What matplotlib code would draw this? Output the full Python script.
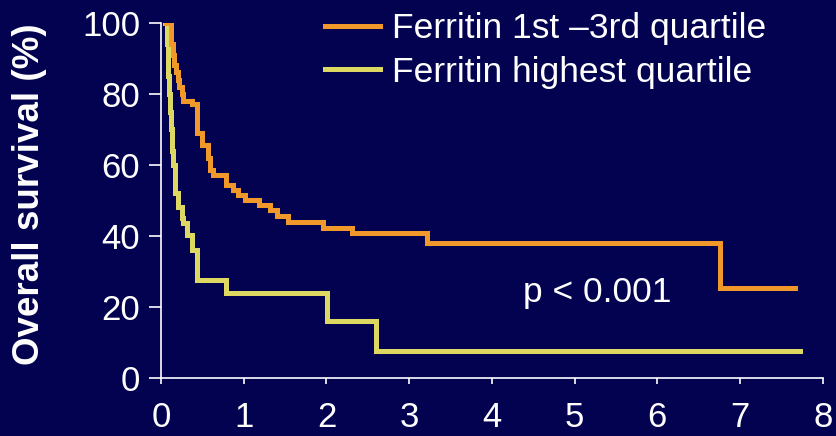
import matplotlib
matplotlib.use("Agg")
import matplotlib.pyplot as plt

plt.rcParams['font.family'] = ['Liberation Sans', 'DejaVu Sans']

# Kaplan-Meier steps (years, % surviving)
t_low = [0.06, 0.12, 0.14, 0.16, 0.18, 0.20, 0.22, 0.25, 0.27, 0.37, 0.43, 0.49,
         0.57, 0.59, 0.63, 0.79, 0.87, 0.93, 1.02, 1.18, 1.32, 1.40, 1.54, 1.96,
         2.31, 3.21, 6.76, 7.67]
s_low = [100, 94, 91, 88, 86, 84, 82, 80, 78, 77, 69, 65.5, 62, 58.5, 57, 54.3,
         52.9, 51.5, 50.1, 48.7, 47.2, 45.6, 44, 42.3, 40.7, 37.9, 25.2, 25.2]

t_high = [0.05, 0.07, 0.08, 0.09, 0.10, 0.11, 0.12, 0.13, 0.15, 0.17, 0.21, 0.25,
          0.27, 0.31, 0.37, 0.43, 0.79, 2.01, 2.60, 7.72]
s_high = [100, 94, 89, 85, 80, 75, 70, 64, 60, 52, 48, 45, 43.5, 40.2, 36, 27.7,
          23.8, 16.1, 7.6, 7.6]

labels = ["Ferritin 1st \u20133rd quartile", "Ferritin highest quartile"]
xticks = list(range(0, 9))
yticks = [0, 20, 40, 60, 80, 100]

bg = '#020250'
c_low = '#f0982a'
c_high = '#dcd862'

fig = plt.figure(figsize=(8.37, 4.36), dpi=100, facecolor=bg)
ax = fig.add_axes([0.1924, 0.133, 0.7906, 0.815], facecolor=bg)

ax.step(t_high, s_high, where='post', color=c_high, lw=3.6, label=labels[1],
        solid_joinstyle='miter')
ax.step(t_low, s_low, where='post', color=c_low, lw=3.6, label=labels[0],
        solid_joinstyle='miter')

ax.set_xlim(0, 8)
ax.set_ylim(0, 100)
ax.set_xticks(xticks)
ax.set_yticks(yticks)

for side in ['top', 'right']:
    ax.spines[side].set_visible(False)
for side in ['left', 'bottom']:
    ax.spines[side].set_color('white')
    ax.spines[side].set_linewidth(1.2)

ax.tick_params(axis='both', colors='white', labelsize=25, width=1.2)
ax.tick_params(axis='y', length=9, pad=6)
ax.tick_params(axis='x', length=4.5, pad=12)

ax.set_ylabel("Overall survival (%)", color='white', fontsize=26.5,
              fontweight='bold')
ax.yaxis.set_label_coords(-0.172, 0.518)

ax.text(4.38, 24, "p < 0.001", color='white', fontsize=25.5, va='center', ha='left')

handles, labs = ax.get_legend_handles_labels()
leg = ax.legend(handles[::-1], labs[::-1], loc='upper left', frameon=False,
                bbox_to_anchor=(325 / 837, 1 - 12 / 436), bbox_transform=fig.transFigure,
                fontsize=25.5, handlelength=1.55, handletextpad=0.35,
                labelspacing=0.3, borderpad=0, borderaxespad=0)
for txt in leg.get_texts():
    txt.set_color('white')

fig.savefig('out.png', dpi=100, facecolor=bg)
